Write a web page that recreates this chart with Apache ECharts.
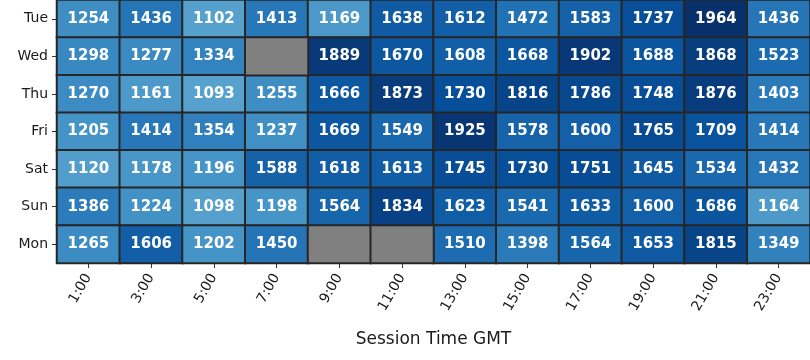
<!DOCTYPE html>
<html>
<head>
<meta charset="utf-8">
<script src="https://cdn.jsdelivr.net/npm/echarts@6/dist/echarts.min.js"></script>
<style>html,body{margin:0;padding:0;background:#fff;}#c{width:810px;height:360px;}</style>
</head>
<body>
<div id="c"></div>
<script>
const hours = ['1:00','3:00','5:00','7:00','9:00','11:00','13:00','15:00','17:00','19:00','21:00','23:00'];
const days = ['Tue','Wed','Thu','Fri','Sat','Sun','Mon'];
const tue = [1254,1436,1102,1413,1169,1638,1612,1472,1583,1737,1964,1436];
const wed = [1298,1277,1334,null,1889,1670,1608,1668,1902,1688,1868,1523];
const thu = [1270,1161,1093,1255,1666,1873,1730,1816,1786,1748,1876,1403];
const fri = [1205,1414,1354,1237,1669,1549,1925,1578,1600,1765,1709,1414];
const sat = [1120,1178,1196,1588,1618,1613,1745,1730,1751,1645,1534,1432];
const sun = [1386,1224,1098,1198,1564,1834,1623,1541,1633,1600,1686,1164];
const mon = [1265,1606,1202,1450,null,null,1510,1398,1564,1653,1815,1349];
const rows = [tue,wed,thu,fri,sat,sun,mon];

const data = [], missing = [];
rows.forEach((r, yi) => r.forEach((v, xi) => {
  if (v === null) missing.push([xi, yi, 0]);
  else data.push([xi, yi, v]);
}));

const chart = echarts.init(document.getElementById('c'), null, {renderer:'canvas'});
const font = 'DejaVu Sans';
chart.setOption({
  animation: false,
  grid: {left: 57, right: 0, top: 0, bottom: 97},
  xAxis: {
    type: 'category', data: hours,
    name: 'Session Time GMT', nameLocation: 'middle', nameGap: 68,
    nameTextStyle: {fontFamily: font, fontSize: 17, color: '#1a1a1a'},
    axisLine: {show: false},
    axisTick: {show: true, alignWithLabel: true, length: 5, lineStyle: {color: '#333', width: 1}},
    axisLabel: {rotate: 60, fontFamily: font, fontSize: 14, color: '#1a1a1a', margin: 12},
    splitLine: {show: false}
  },
  yAxis: {
    type: 'category', data: days, inverse: true,
    axisLine: {show: false},
    axisTick: {show: true, alignWithLabel: true, length: 5, lineStyle: {color: '#333', width: 1}},
    axisLabel: {fontFamily: font, fontSize: 14, color: '#1a1a1a', margin: 9},
    splitLine: {show: false}
  },
  visualMap: {
    show: false, seriesIndex: 0, min: 974, max: 1964, calculable: false,
    inRange: {color: ['#6baed6','#4292c6','#2171b5','#08519c','#08306b']}
  },
  series: [
    {
      type: 'heatmap', data: data,
      itemStyle: {borderColor: '#262626', borderWidth: 2},
      label: {show: true, color: '#fff', fontFamily: font, fontWeight: 'bold', fontSize: 15,
              formatter: p => String(p.value[2])}
    },
    {
      type: 'heatmap', data: missing,
      itemStyle: {color: '#808080', borderColor: '#262626', borderWidth: 2},
      label: {show: false}
    }
  ]
});
</script>
</body>
</html>
